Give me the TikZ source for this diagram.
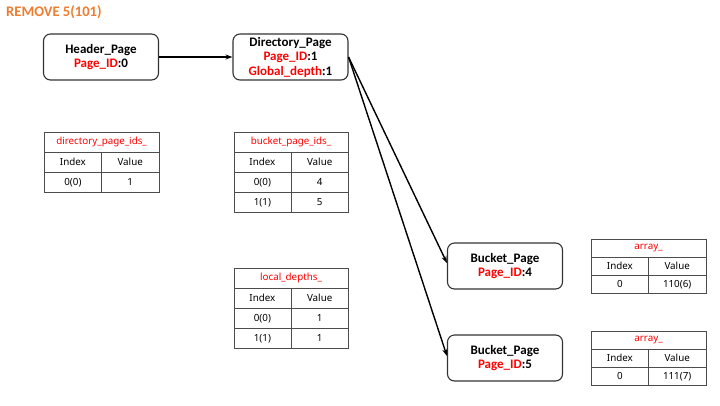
\documentclass[tikz,border=0pt]{standalone}
\usepackage{fontspec}
\setmainfont{Carlito}
\newfontfamily\tblfont{Noto Sans}
\usetikzlibrary{arrows.meta}
\definecolor{ttl}{HTML}{ED7D31}
\definecolor{rd}{HTML}{FF0000}
\begin{document}
\begin{tikzpicture}[x=1pt,y=-1pt,
  pagebox/.style={draw=black!80, line width=1.1pt, rounded corners=7pt, minimum width=115pt, minimum height=46pt, align=center, inner sep=0pt, font=\bfseries\fontsize{13}{14.5}\selectfont},
  arr/.style={line width=1.4pt, -{Stealth[length=7pt,width=5pt]}},
  tcell/.style={draw=black!70, line width=0.6pt, minimum height=20pt, minimum width=57.25pt, inner sep=0pt, anchor=north west, font=\tblfont\fontsize{9.8}{11}\selectfont},
  ttitle/.style={tcell, minimum width=114.5pt, text=rd},
  scell/.style={tcell, minimum height=18pt},
  stitle/.style={ttitle, minimum height=18pt}]
\useasboundingbox (0,0) rectangle (720,405);
\node[anchor=west, text=ttl, font=\bfseries\fontsize{14.6}{16}\selectfont, inner sep=0pt] (title) at (6,12) {REMOVE 5(101)};

\node[pagebox] (hdr) at (101,57) {Header\_Page\\\textcolor{rd}{Page\_ID}:0};
\node[pagebox] (dir) at (290.5,57) {Directory\_Page\\\textcolor{rd}{Page\_ID}:1\\\textcolor{rd}{Global\_depth}:1};
\node[pagebox] (b4) at (505,266) {Bucket\_Page\\\textcolor{rd}{Page\_ID}:4};
\node[pagebox] (b5) at (505,358) {Bucket\_Page\\\textcolor{rd}{Page\_ID}:5};

\draw[arr] (hdr.east) -- (dir.west);
\draw[arr] (dir.east) -- ([yshift=3pt]b4.west);
\draw[arr] (dir.east) -- ([yshift=2pt]b5.west);

% directory_page_ids_
\node[ttitle] (t1t) at (44,132) {directory\_page\_ids\_};
\node[tcell] (t1i) at (44,152) {Index};
\node[tcell] (t1v) at (101.25,152) {Value};
\node[tcell] (t1r1a) at (44,172) {0(0)};
\node[tcell] (t1r1b) at (101.25,172) {1};

% bucket_page_ids_
\node[ttitle] (t2t) at (233.5,132) {bucket\_page\_ids\_};
\node[tcell] (t2i) at (233.5,152) {Index};
\node[tcell] (t2v) at (290.75,152) {Value};
\node[tcell] (t2r1a) at (233.5,172) {0(0)};
\node[tcell] (t2r1b) at (290.75,172) {4};
\node[tcell] (t2r2a) at (233.5,192) {1(1)};
\node[tcell] (t2r2b) at (290.75,192) {5};

% local_depths_
\node[ttitle] (t3t) at (233.5,268) {local\_depths\_};
\node[tcell] (t3i) at (233.5,288) {Index};
\node[tcell] (t3v) at (290.75,288) {Value};
\node[tcell] (t3r1a) at (233.5,308) {0(0)};
\node[tcell] (t3r1b) at (290.75,308) {1};
\node[tcell] (t3r2a) at (233.5,328) {1(1)};
\node[tcell] (t3r2b) at (290.75,328) {1};

% array_ (bucket 4)
\node[stitle] (t4t) at (591,239) {array\_};
\node[scell] (t4i) at (591,257) {Index};
\node[scell] (t4v) at (648.25,257) {Value};
\node[scell] (t4r1a) at (591,275) {0};
\node[scell] (t4r1b) at (648.25,275) {110(6)};

% array_ (bucket 5)
\node[stitle] (t5t) at (591,331) {array\_};
\node[scell] (t5i) at (591,349) {Index};
\node[scell] (t5v) at (648.25,349) {Value};
\node[scell] (t5r1a) at (591,367) {0};
\node[scell] (t5r1b) at (648.25,367) {111(7)};
\end{tikzpicture}
\end{document}
